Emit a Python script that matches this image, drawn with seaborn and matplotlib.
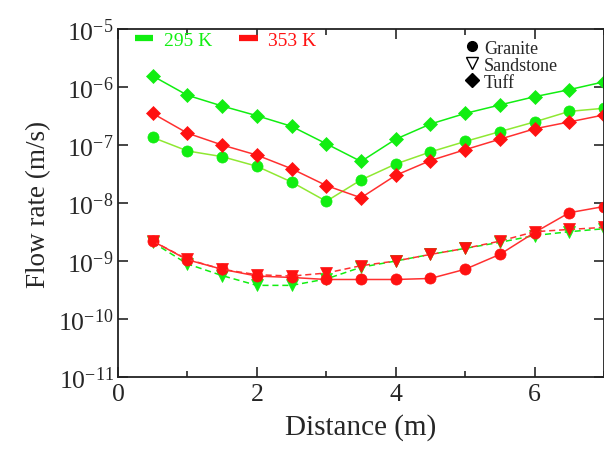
import numpy as np
import pandas as pd
import seaborn as sns
import matplotlib
matplotlib.use("Agg")
import matplotlib.pyplot as plt
from matplotlib.lines import Line2D
from matplotlib.ticker import FixedLocator, FuncFormatter, MultipleLocator

sns.set_style("ticks")
plt.rcParams["font.family"] = ["Liberation Serif", "DejaVu Serif"]
plt.rcParams["mathtext.fontset"] = "custom"
plt.rcParams["mathtext.rm"] = "Liberation Serif"
plt.rcParams["mathtext.it"] = "Liberation Serif:italic"
plt.rcParams["axes.unicode_minus"] = False

# distance from the heat source (m)
distance = [0.5, 1.0, 1.5, 2.0, 2.5, 3.0, 3.5, 4.0, 4.5, 5.0, 5.5, 6.0, 6.5, 7.0]

# flow rate (m/s) at 295 K
tuff_295 = [1.55e-6, 7.2e-7, 4.7e-7, 3.2e-7, 2.1e-7, 1.05e-7, 5.2e-8,
            1.26e-7, 2.3e-7, 3.5e-7, 4.9e-7, 6.8e-7, 9.0e-7, 1.23e-6]
granite_295 = [1.35e-7, 7.9e-8, 6.3e-8, 4.3e-8, 2.3e-8, 1.07e-8, 2.5e-8,
               4.7e-8, 7.6e-8, 1.15e-7, 1.7e-7, 2.5e-7, 3.8e-7, 4.3e-7]
sandstone_295 = [2.1e-9, 8.9e-10, 5.6e-10, 3.8e-10, 3.8e-10, 4.9e-10, 7.8e-10,
                 1.0e-9, 1.3e-9, 1.65e-9, 2.1e-9, 2.75e-9, 3.2e-9, 3.6e-9]

# flow rate (m/s) at 353 K
tuff_353 = [3.5e-7, 1.6e-7, 1.0e-7, 6.7e-8, 3.9e-8, 2.0e-8, 1.23e-8,
            3.0e-8, 5.4e-8, 8.3e-8, 1.26e-7, 1.9e-7, 2.5e-7, 3.3e-7]
granite_353 = [2.2e-9, 1.05e-9, 7.2e-10, 5.5e-10, 5.2e-10, 4.8e-10, 4.8e-10,
               4.8e-10, 5.0e-10, 7.2e-10, 1.3e-9, 3.1e-9, 6.8e-9, 8.7e-9]
sandstone_353 = [2.2e-9, 1.07e-9, 7.2e-10, 5.8e-10, 5.5e-10, 6.2e-10, 8.3e-10,
                 1.0e-9, 1.3e-9, 1.65e-9, 2.2e-9, 3.2e-9, 3.5e-9, 3.8e-9]

temperatures = ["295 K", "353 K"]
rock_labels = ["Granite", "Sandstone", "Tuff"]

GREEN = "#11ee11"
GREEN_LINE = "#8fe832"
RED = "#ff1111"
RED_LINE = "#ff3030"

fig = plt.figure(figsize=(6.04, 4.52), dpi=100)
ax = fig.add_axes([118 / 604, 1 - 378 / 452, 486 / 604, 348 / 452])

series = [
    # (values, marker color, line color, marker, size, dashed)
    (sandstone_295, GREEN, GREEN, "v", 9, True),
    (granite_353, RED, RED_LINE, "o", 8, False),
    (sandstone_353, RED, RED_LINE, "v", 9, True),
    (granite_295, GREEN, GREEN_LINE, "o", 8, False),
    (tuff_353, RED, RED_LINE, "D", 7.5, False),
    (tuff_295, GREEN, GREEN, "D", 7.5, False),
]

for vals, mcol, lcol, mk, ms, dashed in series:
    df = pd.DataFrame({"Distance": distance, "Flow": vals})
    sns.lineplot(data=df, x="Distance", y="Flow", ax=ax, color=lcol,
                 linewidth=1.1, linestyle=(0, (4, 2.5)) if dashed else "-",
                 marker=mk, markersize=ms, markerfacecolor=mcol,
                 markeredgecolor=mcol, markeredgewidth=0.5, legend=False)

ax.set_yscale("log")
ax.set_xlim(0, 7)
ax.set_ylim(1e-11, 1e-5)
ax.yaxis.set_major_locator(FixedLocator([10.0 ** k for k in range(-11, -4)]))
ax.yaxis.set_minor_locator(FixedLocator([]))
ax.yaxis.set_major_formatter(
    FuncFormatter(lambda v, p: r"$\mathregular{10^{%d}}$" % round(np.log10(v))))
ax.xaxis.set_major_locator(MultipleLocator(2))
ax.xaxis.set_minor_locator(MultipleLocator(1))

ax.tick_params(axis="both", which="major", direction="in", length=7, width=1.2,
               labelsize=18.5, top=True, right=True, pad=4)
ax.tick_params(axis="y", which="major", pad=3)
ax.tick_params(axis="x", which="minor", direction="in", length=4, width=1.2,
               top=True)
for s in ax.spines.values():
    s.set_linewidth(1.3)
    s.set_color("#222222")

ax.set_xlabel("Distance (m)", fontsize=21, labelpad=6)
ax.set_ylabel("Flow rate (m/s)", fontsize=19.5, labelpad=5)

# temperature legend (colour bars)
temp_handles = [Line2D([], [], color=GREEN, linewidth=4.5, solid_capstyle="butt"),
                Line2D([], [], color=RED, linewidth=4.5, solid_capstyle="butt")]
leg1 = ax.legend(temp_handles, temperatures, loc="upper left",
                 bbox_to_anchor=(0.03, 1.0), ncol=2, frameon=False,
                 fontsize=14, handlelength=0.95, handletextpad=0.55,
                 columnspacing=1.4, borderaxespad=0, borderpad=0.1,
                 labelcolor=[GREEN, RED])
ax.add_artist(leg1)

# rock type legend (marker shapes)
rock_handles = [Line2D([], [], color="black", marker="o", linestyle="none", markersize=7),
                Line2D([], [], color="black", marker="v", linestyle="none", markersize=8,
                       markerfacecolor="white"),
                Line2D([], [], color="black", marker="D", linestyle="none", markersize=7)]
ax.legend(rock_handles, rock_labels, loc="upper left",
          bbox_to_anchor=(0.71, 0.98), frameon=False, fontsize=13,
          handlelength=0.6, handletextpad=0.35, labelspacing=0.0,
          borderaxespad=0, borderpad=0.2)

fig.savefig("out.png", dpi=100)
